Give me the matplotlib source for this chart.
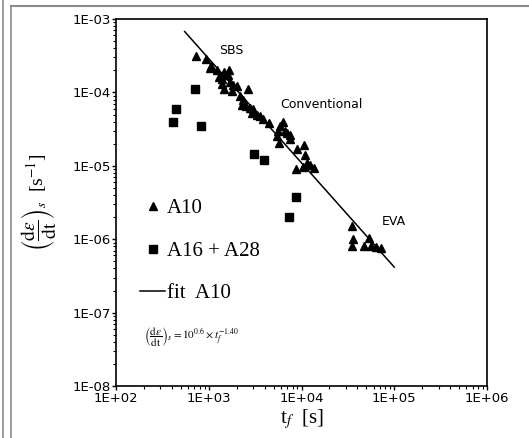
"""
Creep rate vs. time to failure, log-log, A10 fit.
"""
import matplotlib
matplotlib.use("Agg")
import matplotlib.pyplot as plt
import numpy as np
from matplotlib.lines import Line2D
from matplotlib.ticker import FuncFormatter, LogLocator

plt.rcParams["mathtext.fontset"] = "stix"

# A10 (triangles)
tri_t = [733, 933, 1067, 1040, 1230, 1455, 1282, 1394, 1541, 1648,
         1622, 1394, 1675, 1837, 2031, 1455, 1762, 2682, 2153, 2342,
         2265, 2545, 2768, 3010, 2911, 3273, 3559, 3870, 4500, 5880,
         6285, 5595, 6610, 6950, 7550, 5410, 5780, 7550, 8930, 10560,
         10920, 11480, 12480, 10380, 13580, 8630, 35240, 34700, 36000, 46800,
         53500, 56200, 71100, 64300]
tri_rate = [3.11e-4, 2.87e-4, 2.32e-4, 2.14e-4, 1.99e-4, 1.92e-4, 1.61e-4, 1.50e-4, 1.70e-4, 2.05e-4,
            1.73e-4, 1.31e-4, 1.38e-4, 1.27e-4, 1.22e-4, 1.10e-4, 1.06e-4, 1.12e-4, 8.9e-5, 8.0e-5,
            6.8e-5, 6.5e-5, 6.2e-5, 5.9e-5, 5.3e-5, 4.97e-5, 4.76e-5, 4.29e-5, 3.87e-5, 3.48e-5,
            3.95e-5, 3.0e-5, 3.0e-5, 2.82e-5, 2.65e-5, 2.55e-5, 2.07e-5, 2.29e-5, 1.68e-5, 1.90e-5,
            1.39e-5, 1.10e-5, 1.02e-5, 9.65e-6, 9.35e-6, 9.17e-6, 1.49e-6, 7.98e-7, 1.0e-6, 8.15e-7,
            1.05e-6, 8.15e-7, 7.5e-7, 7.9e-7]

# A16 + A28 (squares)
sq_t = [702, 440, 408, 817, 3090, 3970, 8630, 7310]
sq_rate = [1.10e-4, 5.86e-5, 3.95e-5, 3.44e-5, 1.47e-5, 1.19e-5, 3.78e-6, 2.02e-6]

# fit A10: log10(rate) = a + b*log10(t)
fit_a = 0.72
fit_b = -1.42
fit_t_range = [550, 1.0e5]

# group labels
groups = ["SBS", "Conventional", "EVA"]
group_t = [1760, 16400, 98000]
group_rate = [3.7e-4, 6.8e-5, 1.73e-6]

fig = plt.figure(figsize=(5.29, 4.38), dpi=100, facecolor="white")
ax = fig.add_axes([0.2193, 0.1187, 0.7013, 0.8379])

ax.plot(tri_t, tri_rate, "^", color="black", markersize=5.3, linestyle="none", label="A10")
ax.plot(sq_t, sq_rate, "s", color="black", markersize=5.5, linestyle="none", label="A16 + A28")
ft = np.array(fit_t_range)
ax.plot(ft, 10 ** fit_a * ft ** fit_b, color="black", linewidth=1.1, label="fit  A10")

for g, gt, gr in zip(groups, group_t, group_rate):
    ax.text(gt, gr, g, ha="center", va="center", fontsize=9, family="DejaVu Sans")

ax.set_xscale("log")
ax.set_yscale("log")
ax.set_xlim(1e2, 1e6)
ax.set_ylim(1e-8, 1e-3)

fmt = FuncFormatter(lambda v, p: f"1E{int(round(np.log10(v))):+03d}")
ax.xaxis.set_major_formatter(fmt)
ax.yaxis.set_major_formatter(fmt)
ax.xaxis.set_major_locator(LogLocator(base=10, numticks=10))
ax.yaxis.set_major_locator(LogLocator(base=10, numticks=10))
ax.xaxis.set_minor_locator(LogLocator(base=10, subs=np.arange(2, 10), numticks=20))
ax.yaxis.set_minor_locator(LogLocator(base=10, subs=np.arange(2, 10), numticks=20))
ax.tick_params(which="major", direction="out", length=3, width=1, labelsize=9.5, pad=1)
ax.tick_params(which="minor", direction="out", length=2, width=0.8)
ax.tick_params(top=False, right=False, which="both")
for s in ax.spines.values():
    s.set_linewidth(1.2)

ax.set_xlabel(r"t$_f$  [s]", fontsize=15, family="Liberation Serif", labelpad=2)
ax.set_ylabel(r"$\left(\dfrac{\mathrm{d}\varepsilon}{\mathrm{dt}}\right)_s$  [s$^{-1}$]", fontsize=14,
              family="Liberation Serif", labelpad=10)

leg = ax.legend(loc="upper left", bbox_to_anchor=(0.065, 0.51), frameon=False,
                prop={"family": "Liberation Serif", "size": 15},
                handlelength=1.2, handletextpad=0.1, labelspacing=1.1,
                borderpad=0, borderaxespad=0)

ax.text(0.075, 0.134,
        r"$\left(\dfrac{\mathrm{d}\varepsilon}{\mathrm{dt}}\right)_s = 10^{0.6}\times t_f^{-1.40}$",
        transform=ax.transAxes, fontsize=8, ha="left", va="center")

# scan frame lines
gray = "#8a8a8a"
W, H = 529.0, 438.0
fig.add_artist(Line2D([3 / W, 3 / W], [0, 1], color=gray, lw=1.2))
fig.add_artist(Line2D([11 / W, 11 / W], [0, 1 - 6 / H], color=gray, lw=1.2))
fig.add_artist(Line2D([11 / W, 1], [1 - 6 / H, 1 - 6 / H], color=gray, lw=1.5))

plt.savefig("out.png", dpi=100, facecolor="white")
plt.close(fig)
